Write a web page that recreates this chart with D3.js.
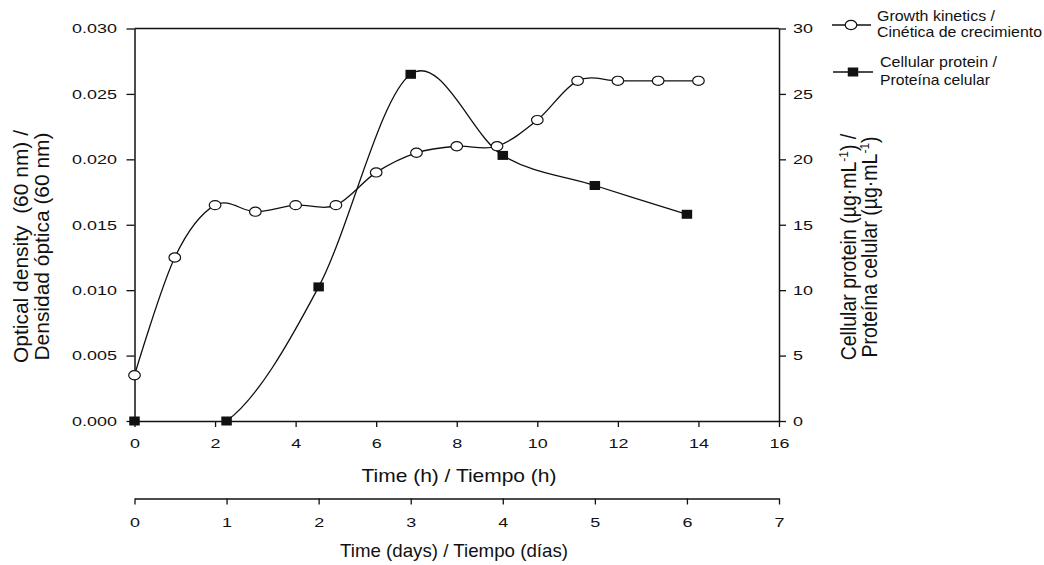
<!DOCTYPE html>
<html><head><meta charset="utf-8">
<script src="https://cdn.jsdelivr.net/npm/d3@7"></script>
<style>
body{margin:0;background:#fff}
svg{display:block}
text{font-family:"Liberation Sans",Arial,Helvetica,sans-serif;fill:#111}
</style>
</head><body>
<svg id="c" width="1044" height="565"></svg>
<script>
// ---- data ----
const hours = [0,1,2,3,4,5,6,7,8,9,10,11,12,13,14];
const opticalDensity = [0.0035,0.0125,0.0165,0.016,0.0165,0.0165,0.019,0.0205,0.021,0.021,0.023,0.026,0.026,0.026,0.026];
const days = [0,1,2,3,4,5,6];
const cellularProtein = [0,0,10.25,26.5,20.3,18.0,15.8];
const hourTicks = [0,2,4,6,8,10,12,14,16];
const dayTicks = [0,1,2,3,4,5,6,7];
const odTicks = [0,0.005,0.010,0.015,0.020,0.025,0.030];
const proteinTicks = [0,5,10,15,20,25,30];
const legendGrowth = ["Growth kinetics /","Cinética de crecimiento"];
const legendProtein = ["Cellular protein /","Proteína celular"];

const svg = d3.select("#c");
const L = 134.5, R = 779, T = 28.5, B = 421, DAYY = 498.5;
const SX = 1.33, TF = 13.5;

const x = d3.scaleLinear().domain([0,16]).range([L,R]);
const xd = d3.scaleLinear().domain([0,7]).range([L,R]);
const y = d3.scaleLinear().domain([0,0.03]).range([B,T]);
const y2 = d3.scaleLinear().domain([0,30]).range([B,T]);

function styleAxis(g){
  g.selectAll("path.domain").attr("stroke","#111").attr("stroke-width",1.5);
  g.selectAll(".tick line").attr("stroke","#111").attr("stroke-width",1.3);
  g.selectAll(".tick text").attr("font-size",TF).attr("fill","#111")
    .style("font-family",'"Liberation Sans",Arial,sans-serif');
}

// top frame line
svg.append("line").attr("x1",L).attr("x2",R).attr("y1",T).attr("y2",T)
  .attr("stroke","#111").attr("stroke-width",1.5);

// left axis
const gl = svg.append("g").attr("transform",`translate(${L},0)`)
  .call(d3.axisLeft(y).tickValues(odTicks).tickFormat(d3.format(".3f")).tickSize(8).tickSizeOuter(0));
styleAxis(gl);
gl.selectAll(".tick text").attr("x",-17.5/SX).attr("transform",`scale(${SX},1)`);

// right axis
const gr = svg.append("g").attr("transform",`translate(${R},0)`)
  .call(d3.axisRight(y2).tickValues(proteinTicks).tickFormat(d3.format("d")).tickSize(7).tickSizeOuter(0));
styleAxis(gr);
gr.selectAll(".tick text").attr("x",14/SX).attr("transform",`scale(${SX},1)`);

// bottom hours axis
const gb = svg.append("g").attr("transform",`translate(0,${B})`)
  .call(d3.axisBottom(x).tickValues(hourTicks).tickFormat(d3.format("d")).tickSize(6).tickSizeOuter(0));
styleAxis(gb);
gb.selectAll(".tick text").attr("y",17).attr("transform",`scale(${SX},1)`);

// days axis
const gd = svg.append("g").attr("transform",`translate(0,${DAYY})`)
  .call(d3.axisBottom(xd).tickValues(dayTicks).tickFormat(d3.format("d")).tickSize(6).tickSizeOuter(0));
styleAxis(gd);
gd.selectAll(".tick text").attr("y",18.5).attr("transform",`scale(${SX},1)`);

// clip for curves
svg.append("clipPath").attr("id","plotclip").append("rect")
  .attr("x",L).attr("y",T).attr("width",R-L).attr("height",B-T);

const growth = hours.map((h,i)=>[h,opticalDensity[i]]);
const protein = days.map((d,i)=>[d,cellularProtein[i]]);

const lineG = d3.line().x(d=>x(d[0])).y(d=>y(d[1])).curve(d3.curveCardinal.tension(0));
const lineP = d3.line().x(d=>xd(d[0])).y(d=>y2(d[1])).curve(d3.curveCardinal.tension(0));

svg.append("path").datum(growth).attr("d",lineG).attr("fill","none")
  .attr("stroke","#111").attr("stroke-width",1.3).attr("clip-path","url(#plotclip)");
svg.append("path").datum(protein).attr("d",lineP).attr("fill","none")
  .attr("stroke","#111").attr("stroke-width",1.3).attr("clip-path","url(#plotclip)");

const RX = 5.8, RY = 4.6, SW = 10.5, SH = 9;
svg.append("g").selectAll("ellipse").data(growth).join("ellipse")
  .attr("cx",d=>x(d[0])).attr("cy",d=>y(d[1])).attr("rx",RX).attr("ry",RY)
  .attr("fill","#fff").attr("stroke","#111").attr("stroke-width",1.2);
svg.append("g").selectAll("rect").data(protein).join("rect")
  .attr("x",d=>xd(d[0])-SW/2).attr("y",d=>y2(d[1])-SH/2).attr("width",SW).attr("height",SH)
  .attr("fill","#111");

// legend
const lg = svg.append("g");
lg.append("line").attr("x1",832).attr("x2",871).attr("y1",25).attr("y2",25).attr("stroke","#111").attr("stroke-width",1.3);
lg.append("ellipse").attr("cx",851).attr("cy",25).attr("rx",RX).attr("ry",RY).attr("fill","#fff").attr("stroke","#111").attr("stroke-width",1.2);
lg.append("line").attr("x1",833).attr("x2",873).attr("y1",72).attr("y2",72).attr("stroke","#111").attr("stroke-width",1.3);
lg.append("rect").attr("x",853-SW/2).attr("y",72-SH/2).attr("width",SW).attr("height",SH).attr("fill","#111");
const legText = [
  [legendGrowth[0],877,20.7,118],[legendGrowth[1],877,37.3,165],
  [legendProtein[0],880,66.7,117],[legendProtein[1],880,85,110]
];
legText.forEach(([t,tx,ty,len])=>{
  lg.append("text").attr("x",tx).attr("y",ty).attr("font-size",14.5)
    .attr("textLength",len).attr("lengthAdjust","spacingAndGlyphs").text(t);
});

// axis titles
svg.append("text").attr("x",459).attr("y",481.7).attr("text-anchor","middle")
  .attr("font-size",18.5).attr("textLength",195).attr("lengthAdjust","spacingAndGlyphs")
  .text("Time (h) / Tiempo (h)");
svg.append("text").attr("x",454).attr("y",556.7).attr("text-anchor","middle")
  .attr("font-size",18.5).attr("textLength",228).attr("lengthAdjust","spacingAndGlyphs")
  .text("Time (days) / Tiempo (días)");

// left rotated title
[["Optical density  (60 nm) /",28,233],["Densidad óptica (60 nm)",49,228]].forEach(([t,bx,len])=>{
  svg.append("text").attr("transform",`translate(${bx},246.5) scale(1.1,1) rotate(-90)`)
    .attr("text-anchor","middle").attr("font-size",19).style("white-space","pre")
    .attr("textLength",len).attr("lengthAdjust","spacingAndGlyphs").text(t);
});

// right rotated title
[["Cellular protein (µg·mL",") /",856],["Proteína celular (µg·mL",")",877]].forEach(([a,b,bx])=>{
  const t = svg.append("text").attr("transform",`translate(${bx},247) scale(1.1,1) rotate(-90)`)
    .attr("text-anchor","middle").attr("font-size",19.5);
  t.append("tspan").text(a);
  t.append("tspan").attr("font-size",12).attr("dy",-7).text("-1");
  t.append("tspan").attr("dy",7).text(b);
});
</script>
</body></html>
